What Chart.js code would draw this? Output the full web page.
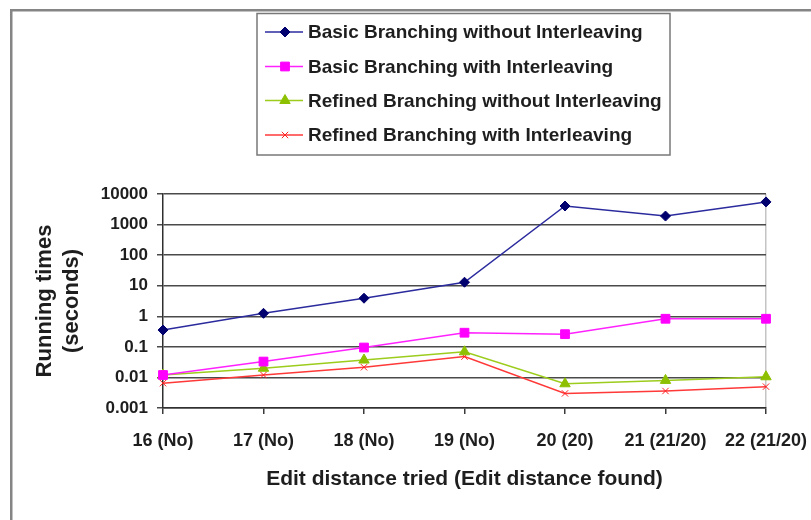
<!DOCTYPE html>
<html>
<head>
<meta charset="utf-8">
<script src="https://cdn.jsdelivr.net/npm/chart.js@4.4.1/dist/chart.umd.min.js"></script>
<style>
  html, body { margin: 0; padding: 0; background: #ffffff; }
  #wrap { position: relative; width: 811px; height: 520px; }
</style>
</head>
<body>
<div id="wrap"><canvas id="c" width="811" height="520"></canvas></div>
<script>
// ---- data ----
const categories = ['16 (No)', '17 (No)', '18 (No)', '19 (No)', '20 (20)', '21 (21/20)', '22 (21/20)'];
const basicNoInter   = [0.355, 1.25, 3.9, 13, 4050, 1900, 5500];
const basicInter     = [0.012, 0.033, 0.095, 0.29, 0.26, 0.83, 0.83];
const refinedNoInter = [0.012, 0.02, 0.037, 0.069, 0.0062, 0.008, 0.0105];
const refinedInter   = [0.0065, 0.012, 0.0215, 0.048, 0.003, 0.0036, 0.005];
const seriesNames = [
  'Basic Branching without Interleaving',
  'Basic Branching with Interleaving',
  'Refined Branching without Interleaving',
  'Refined Branching with Interleaving'
];
const yTickValues = [0.001, 0.01, 0.1, 1, 10, 100, 1000, 10000];
const yTickLabels = ['0.001', '0.01', '0.1', '1', '10', '100', '1000', '10000'];
const xTitle = 'Edit distance tried (Edit distance found)';
const yTitle = ['Running times', '(seconds)'];

const FONT = "'Liberation Sans', Arial, Helvetica, sans-serif";
const TEXT = '#1e1e1e';

function fallbackPoint(ctx, style, r, x, y) {
  ctx.beginPath();
  if (style === 'rectRot') {
    ctx.moveTo(x, y - r); ctx.lineTo(x + r, y); ctx.lineTo(x, y + r); ctx.lineTo(x - r, y); ctx.closePath();
    ctx.fill(); ctx.stroke();
  } else if (style === 'rect') {
    const s = r * Math.SQRT1_2;
    ctx.rect(x - s, y - s, 2 * s, 2 * s); ctx.fill(); ctx.stroke();
  } else if (style === 'triangle') {
    ctx.moveTo(x, y - r); ctx.lineTo(x + r * 0.866, y + r * 0.5); ctx.lineTo(x - r * 0.866, y + r * 0.5); ctx.closePath();
    ctx.fill(); ctx.stroke();
  } else {
    const s = r * Math.SQRT1_2;
    ctx.moveTo(x - s, y - s); ctx.lineTo(x + s, y + s);
    ctx.moveTo(x + s, y - s); ctx.lineTo(x - s, y + s);
    ctx.stroke();
  }
}

const framePlugin = {
  id: 'frame',
  beforeDraw(chart) {
    const ctx = chart.ctx;
    ctx.save();
    ctx.fillStyle = '#858585';
    ctx.fillRect(10, 9, 811, 2.5);
    ctx.fillRect(10, 9, 2.5, 520);
    ctx.restore();
  }
};

const legendPlugin = {
  id: 'boxLegend',
  afterDraw(chart) {
    const ctx = chart.ctx;
    ctx.save();
    ctx.strokeStyle = '#787878';
    ctx.lineWidth = 1.5;
    ctx.strokeRect(257, 13.5, 413, 141.5);
    const rows = [32, 66.5, 100.5, 135];
    ctx.font = 'bold 19px ' + FONT;
    ctx.textBaseline = 'middle';
    ctx.textAlign = 'left';
    chart.data.datasets.forEach((ds, i) => {
      const y = rows[i];
      ctx.strokeStyle = ds.borderColor;
      ctx.lineWidth = 1.5;
      ctx.beginPath(); ctx.moveTo(265, y); ctx.lineTo(303, y); ctx.stroke();
      ctx.fillStyle = ds.pointBackgroundColor;
      ctx.strokeStyle = ds.pointBorderColor;
      ctx.lineWidth = ds.pointBorderWidth;
      const r = ds.pointRadius;
      if (Chart.helpers && Chart.helpers.drawPoint) {
        Chart.helpers.drawPoint(ctx, {pointStyle: ds.pointStyle, radius: r, rotation: 0, borderWidth: ds.pointBorderWidth}, 285, y);
      } else {
        fallbackPoint(ctx, ds.pointStyle, r, 285, y);
      }
      ctx.fillStyle = TEXT;
      ctx.fillText(ds.label, 308, y + 1);
    });
    ctx.restore();
  }
};

function mkSet(label, data, line, mFill, mBorder, style, radius) {
  return {
    label, data,
    borderColor: line, backgroundColor: mFill,
    borderWidth: 1.5,
    pointStyle: style, pointRadius: radius, pointHoverRadius: radius,
    pointBackgroundColor: mFill, pointBorderColor: mBorder, pointBorderWidth: 1,
    tension: 0, fill: false, clip: false
  };
}

new Chart(document.getElementById('c'), {
  type: 'line',
  data: {
    labels: categories,
    datasets: [
      mkSet(seriesNames[0], basicNoInter, '#2b2b9e', '#00006e', '#00006e', 'rectRot', 5),
      mkSet(seriesNames[1], basicInter, '#ff22ff', '#ff00ff', '#ff00ff', 'rect', 6.2),
      mkSet(seriesNames[2], refinedNoInter, '#9ccc1c', '#8cc000', '#8cc000', 'triangle', 6),
      mkSet(seriesNames[3], refinedInter, '#ff3838', '#ff2020', '#ff2020', 'crossRot', 4.5)
    ]
  },
  options: {
    responsive: false,
    animation: false,
    events: [],
    layout: { padding: { top: 194, right: 45, bottom: 0, left: 0 } },
    plugins: { legend: { display: false }, tooltip: { enabled: false } },
    scales: {
      x: {
        type: 'category',
        offset: false,
        afterFit(scale) { scale.height = 112; scale.paddingLeft = 0; scale.paddingRight = 0; },
        grid: {
          color: (c) => c.index === categories.length - 1 ? '#c4c4c4' : 'rgba(0,0,0,0)',
          lineWidth: 1.5,
          tickColor: '#3a3a3a',
          tickLength: 6,
          drawTicks: true
        },
        border: { display: true, color: '#303030', width: 1.5 },
        ticks: {
          autoSkip: false, maxRotation: 0, minRotation: 0, padding: 16,
          color: TEXT, font: { family: FONT, size: 18, weight: 'bold' }
        },
        title: {
          display: true, text: xTitle, color: TEXT,
          font: { family: FONT, size: 21, weight: 'bold', lineHeight: 1.2 },
          padding: { top: 0, bottom: 28 }
        }
      },
      y: {
        type: 'logarithmic',
        min: 0.001, max: 10000,
        afterFit(scale) { scale.width = 163; scale.paddingTop = 0; scale.paddingBottom = 0; },
        afterBuildTicks(scale) { scale.ticks = yTickValues.map(v => ({ value: v })); },
        grid: { color: '#4a4a4a', lineWidth: 1.5, tickLength: 6, drawTicks: true },
        border: { display: true, color: '#303030', width: 1.5 },
        ticks: {
          padding: 9, color: TEXT,
          font: { family: FONT, size: 17, weight: 'bold' },
          callback: (v) => { const i = yTickValues.indexOf(v); return i >= 0 ? yTickLabels[i] : ''; }
        },
        title: {
          display: true, text: yTitle, color: TEXT,
          font: { family: FONT, size: 22, weight: 'bold', lineHeight: '27px' },
          padding: { top: 31, bottom: 0 }
        }
      }
    }
  },
  plugins: [framePlugin, legendPlugin]
});
</script>
</body>
</html>
